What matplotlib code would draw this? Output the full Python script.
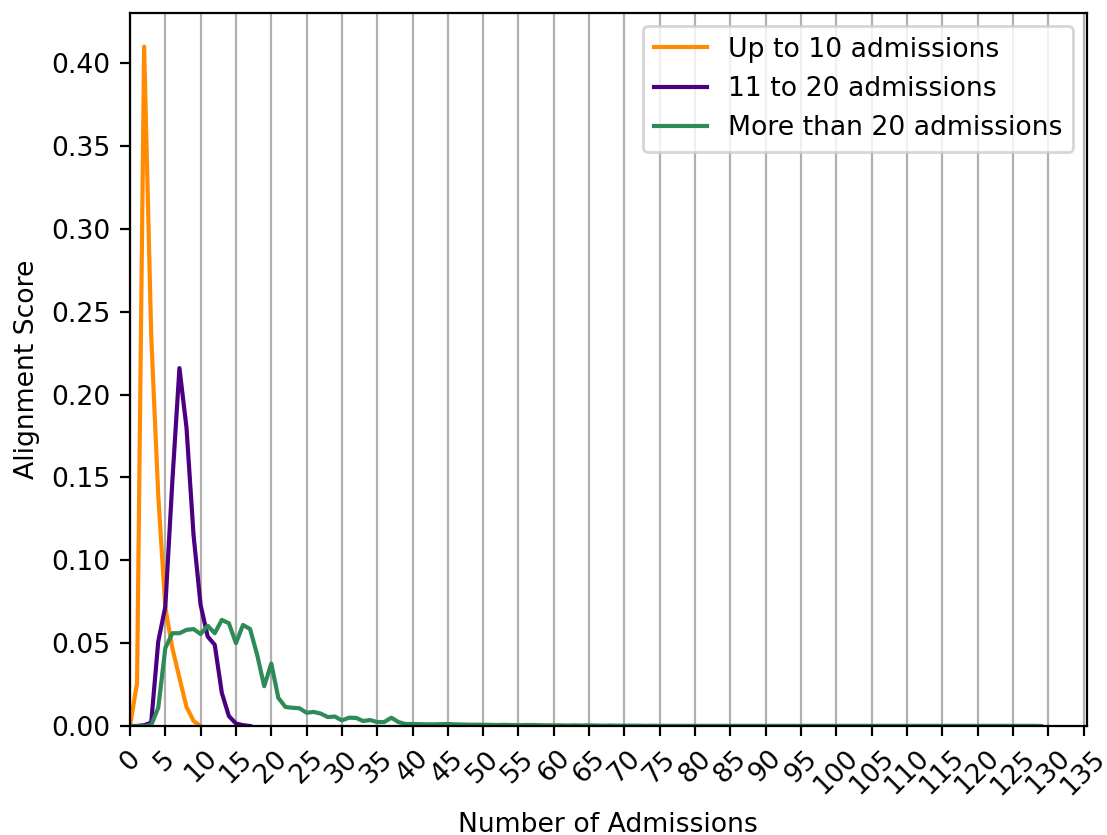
import matplotlib
matplotlib.use("Agg")
import matplotlib.pyplot as plt
import numpy as np

# ---- data ----
up_to_10_x = list(range(0, 11))
up_to_10_y = [0.0, 0.026, 0.410, 0.236, 0.139, 0.0715, 0.047, 0.029, 0.0115, 0.003, 0.0]

mid_x = list(range(0, 18))
mid_y = [0.0, 0.0, 0.0005, 0.002, 0.051, 0.072, 0.148, 0.216, 0.180, 0.115, 0.073,
         0.054, 0.049, 0.020, 0.006, 0.0015, 0.0005, 0.0]

more_y = [0.0, 0.0, 0.0, 0.0005, 0.011, 0.047, 0.056, 0.056, 0.058, 0.0585,
          0.0555, 0.0605, 0.056, 0.064, 0.062, 0.050, 0.061, 0.0585, 0.043, 0.024,
          0.0377, 0.017, 0.0115, 0.011, 0.0107, 0.008, 0.0085, 0.0075, 0.0054, 0.0057,
          0.0034, 0.005, 0.0049, 0.003, 0.0036, 0.0024, 0.0024, 0.005, 0.0024, 0.0012,
          0.0012, 0.0011, 0.0010, 0.0010, 0.0011, 0.0012, 0.0010, 0.0009, 0.0008, 0.0008,
          0.0007, 0.0007, 0.0006, 0.0007, 0.0006, 0.0005, 0.0006, 0.0006, 0.0005, 0.0004,
          0.0004, 0.0004, 0.0003, 0.0004, 0.0003, 0.0004, 0.0003, 0.0002, 0.0003, 0.0002,
          0.0002, 0.0002, 0.0002, 0.0001, 0.0002, 0.0001, 0.0001, 0.0001, 0.0001, 0.0001,
          0.0001, 0.0001, 0.0001, 0.0001, 0.0001, 0.0001, 0.0001, 0.0001, 0.0001, 0.0001,
          0.0001, 0.0001, 0.0001, 0.0001, 0.0001, 0.0001, 0.0001, 0.0001, 0.0001, 0.0001,
          0.0001, 0.0001, 0.0001, 0.0001, 0.0001, 0.0001, 0.0001, 0.0001, 0.0001, 0.0001,
          0.0001, 0.0001, 0.0001, 0.0001, 0.0001, 0.0001, 0.0001, 0.0001, 0.0001, 0.0001,
          0.0001, 0.0001, 0.0001, 0.0001, 0.0001, 0.0001, 0.0001, 0.0001, 0.0001, 0.0]
more_x = list(range(0, len(more_y)))

series_labels = ["Up to 10 admissions", "11 to 20 admissions", "More than 20 admissions"]
x_ticks = list(range(0, 140, 5))

# ---- plot ----
plt.rcParams["font.size"] = 9.6
fig = plt.figure(figsize=(1107 / 200, 835 / 200), dpi=200)
ax = fig.add_axes([130 / 1107, 1 - 726 / 835, (1086.7 - 130) / 1107, (726 - 12.7) / 835])

ax.plot(up_to_10_x, up_to_10_y, color="darkorange", lw=1.5, label=series_labels[0])
ax.plot(mid_x, mid_y, color="indigo", lw=1.5, label=series_labels[1])
ax.plot(more_x, more_y, color="seagreen", lw=1.5, label=series_labels[2])

ax.set_xlim(left=0)
ax.set_ylim(bottom=0)
ax.set_xticks(x_ticks)
ax.set_xticklabels([str(t) for t in x_ticks], rotation=45)
ax.grid(axis="x")
ax.set_xlabel("Number of Admissions", labelpad=4.5)
ax.set_ylabel("Alignment Score")
ax.legend(loc="upper right")

fig.savefig("out.png", dpi=200)
